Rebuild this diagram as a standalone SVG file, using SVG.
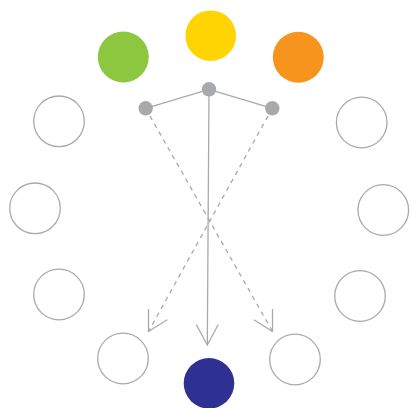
<svg xmlns="http://www.w3.org/2000/svg" width="410" height="408" viewBox="0 0 410 408">
<style>
.ring{fill:#fff;stroke:#a7a9ac;stroke-width:1.3}
.dot{fill:#a7a9ac}
.ln{fill:none;stroke:#a7a9ac;stroke-width:1.3;stroke-linecap:round;stroke-linejoin:round}
.dash{stroke-dasharray:4.5 4.5;stroke-linecap:butt}
</style>
<rect width="410" height="408" fill="#fff"/>
<g id="connectors">
<polyline class="ln" points="145.7,108.3 209,89.3 272.3,108.3"/>
<line class="ln" x1="209" y1="89.3" x2="207.3" y2="345"/>
<polyline class="ln" points="196.5,325 207.3,345 218,325"/>
<line class="ln dash" x1="268" y1="116" x2="148.5" y2="331.5"/>
<polyline class="ln" points="148.5,309.5 148.5,331.5 166.8,320"/>
<line class="ln dash" x1="150" y1="116" x2="272.5" y2="331.5"/>
<polyline class="ln" points="272.5,309.5 272.5,331.5 254.2,320"/>
</g>
<g id="n-yellow"><circle cx="210.7" cy="35.7" r="25.3" fill="#ffd400"/></g>
<g id="n-green"><circle cx="123.3" cy="57" r="25.5" fill="#8dc63f"/></g>
<g id="n-orange"><circle cx="298.3" cy="57.3" r="25.5" fill="#f7941e"/></g>
<g id="n-hub"><circle class="dot" cx="209" cy="89.3" r="7.2"/></g>
<g id="n-hub-left"><circle class="dot" cx="145.7" cy="108.3" r="7.2"/></g>
<g id="n-hub-right"><circle class="dot" cx="272.3" cy="108.3" r="7.2"/></g>
<g id="n-l1"><circle class="ring" cx="59" cy="121.3" r="25.3"/></g>
<g id="n-l2"><circle class="ring" cx="35" cy="208.3" r="25.3"/></g>
<g id="n-l3"><circle class="ring" cx="59" cy="294.5" r="25.3"/></g>
<g id="n-r1"><circle class="ring" cx="361.7" cy="122.5" r="25.3"/></g>
<g id="n-r2"><circle class="ring" cx="383.3" cy="210" r="25.3"/></g>
<g id="n-r3"><circle class="ring" cx="360" cy="296" r="25.3"/></g>
<g id="n-bl"><circle class="ring" cx="123" cy="358.5" r="25.3"/></g>
<g id="n-br"><circle class="ring" cx="295" cy="359.5" r="25.3"/></g>
<g id="n-navy"><circle cx="209" cy="383.3" r="25.3" fill="#2e3192"/></g>
</svg>
